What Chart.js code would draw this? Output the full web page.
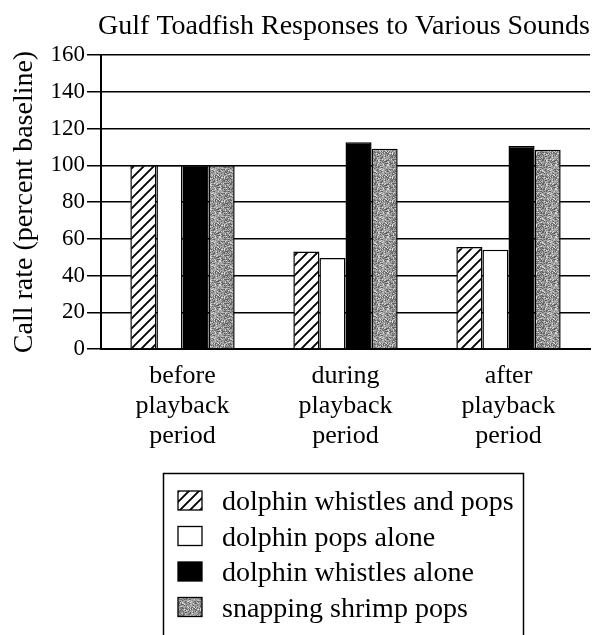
<!DOCTYPE html>
<html>
<head>
<meta charset="utf-8">
<script src="https://cdn.jsdelivr.net/npm/chart.js@4"></script>
<style>
html,body{margin:0;padding:0;background:#fff;}
#wrap{width:608px;height:635px;position:relative;}
</style>
</head>
<body>
<div id="wrap"><canvas id="c" width="608" height="635"></canvas></div>
<script>
// ---- data ----
const categories = [["before","playback","period"],["during","playback","period"],["after","playback","period"]];
const seriesNames = ["dolphin whistles and pops","dolphin pops alone","dolphin whistles alone","snapping shrimp pops"];
const whistlesAndPops = [100, 53, 55.5];
const popsAlone = [100, 49.5, 54];
const whistlesAlone = [100, 112.5, 110.5];
const shrimpPops = [100, 109, 108.5];
const yTicks = [0,20,40,60,80,100,120,140,160];

const FONT = "'Liberation Serif','Times New Roman',serif";

// ---- fill patterns (styling only) ----
function hatchPattern(){
  const s = 10, c = document.createElement('canvas'); c.width = s; c.height = s;
  const g = c.getContext('2d');
  g.fillStyle = '#fff'; g.fillRect(0,0,s,s);
  g.strokeStyle = '#000'; g.lineWidth = 1.9;
  g.beginPath();
  g.moveTo(-1, s+1); g.lineTo(s+1, -1);
  g.moveTo(-1, 1); g.lineTo(1, -1);
  g.moveTo(s-1, s+1); g.lineTo(s+1, s-1);
  g.stroke();
  return g.createPattern(c, 'repeat');
}
function stipplePattern(){
  const s = 24, c = document.createElement('canvas'); c.width = s; c.height = s;
  const g = c.getContext('2d');
  const img = g.createImageData(s, s);
  let h = 12345;
  for (let i = 0; i < s*s; i++){
    h = (h * 1103515245 + 12345) & 0x7fffffff;
    const r = (h >> 8) % 100;
    let v = 165;
    if (r < 24) v = 100; else if (r < 42) v = 135; else if (r > 86) v = 215;
    img.data[i*4] = v; img.data[i*4+1] = v; img.data[i*4+2] = v; img.data[i*4+3] = 255;
  }
  g.putImageData(img, 0, 0);
  return g.createPattern(c, 'repeat');
}
const fills = [hatchPattern(), '#ffffff', '#000000', stipplePattern()];
const seriesValues = [whistlesAndPops, popsAlone, whistlesAlone, shrimpPops];

// ---- legend drawn on canvas ----
const boxLegend = {
  id: 'boxLegend',
  afterDraw(chart){
    const ctx = chart.ctx;
    ctx.save();
    ctx.strokeStyle = '#000'; ctx.lineWidth = 1.5;
    ctx.strokeRect(163.5, 473.5, 360, 200);
    ctx.font = "28px " + FONT;
    ctx.textBaseline = 'alphabetic';
    chart.data.datasets.forEach((ds, i) => {
      const top = 491 + i*35.5;
      ctx.fillStyle = ds.backgroundColor;
      ctx.fillRect(178, top, 24, 19);
      ctx.strokeStyle = '#000'; ctx.lineWidth = 1.3;
      ctx.strokeRect(178, top, 24, 19);
      ctx.fillStyle = '#000';
      ctx.fillText(ds.label, 222, top + 19);
    });
    ctx.restore();
  }
};

Chart.defaults.font.family = FONT;
Chart.defaults.color = '#000';

new Chart(document.getElementById('c'), {
  type: 'bar',
  data: {
    labels: categories,
    datasets: seriesNames.map((n, i) => ({
      label: n,
      data: seriesValues[i],
      backgroundColor: fills[i],
      borderColor: '#000',
      borderWidth: 1.5,
      barPercentage: 1.0,
      categoryPercentage: 0.64
    }))
  },
  options: {
    responsive: false,
    animation: false,
    layout: { padding: { left: 0, right: 18, top: 0, bottom: 0 } },
    plugins: {
      legend: { display: false },
      tooltip: { enabled: false },
      title: {
        display: true,
        text: 'Gulf Toadfish Responses to Various Sounds',
        align: 'end',
        color: '#000',
        font: { size: 28, weight: 'normal', family: FONT, lineHeight: 1.2 },
        padding: { top: 10, bottom: 11.4 }
      }
    },
    scales: {
      x: {
        grid: { display: false },
        border: { display: true, color: '#000', width: 2 },
        ticks: { font: { size: 26, lineHeight: 1.15 }, color: '#000', maxRotation: 0, autoSkip: false, padding: 4 },
        afterFit(s){ s.height = 286; }
      },
      y: {
        min: 0, max: 160,
        afterBuildTicks(s){ s.ticks = yTicks.map(v => ({ value: v })); },
        grid: { color: '#000', lineWidth: 1.5, drawTicks: true, tickLength: 14 },
        border: { display: true, color: '#000', width: 2 },
        ticks: { font: { size: 23 }, color: '#000', padding: 2 },
        title: { display: true, text: 'Call rate (percent baseline)', color: '#000', font: { size: 28 }, padding: { top: 8, bottom: 0 } },
        afterFit(s){ s.width = 101; }
      }
    }
  },
  plugins: [boxLegend]
});
</script>
</body>
</html>
